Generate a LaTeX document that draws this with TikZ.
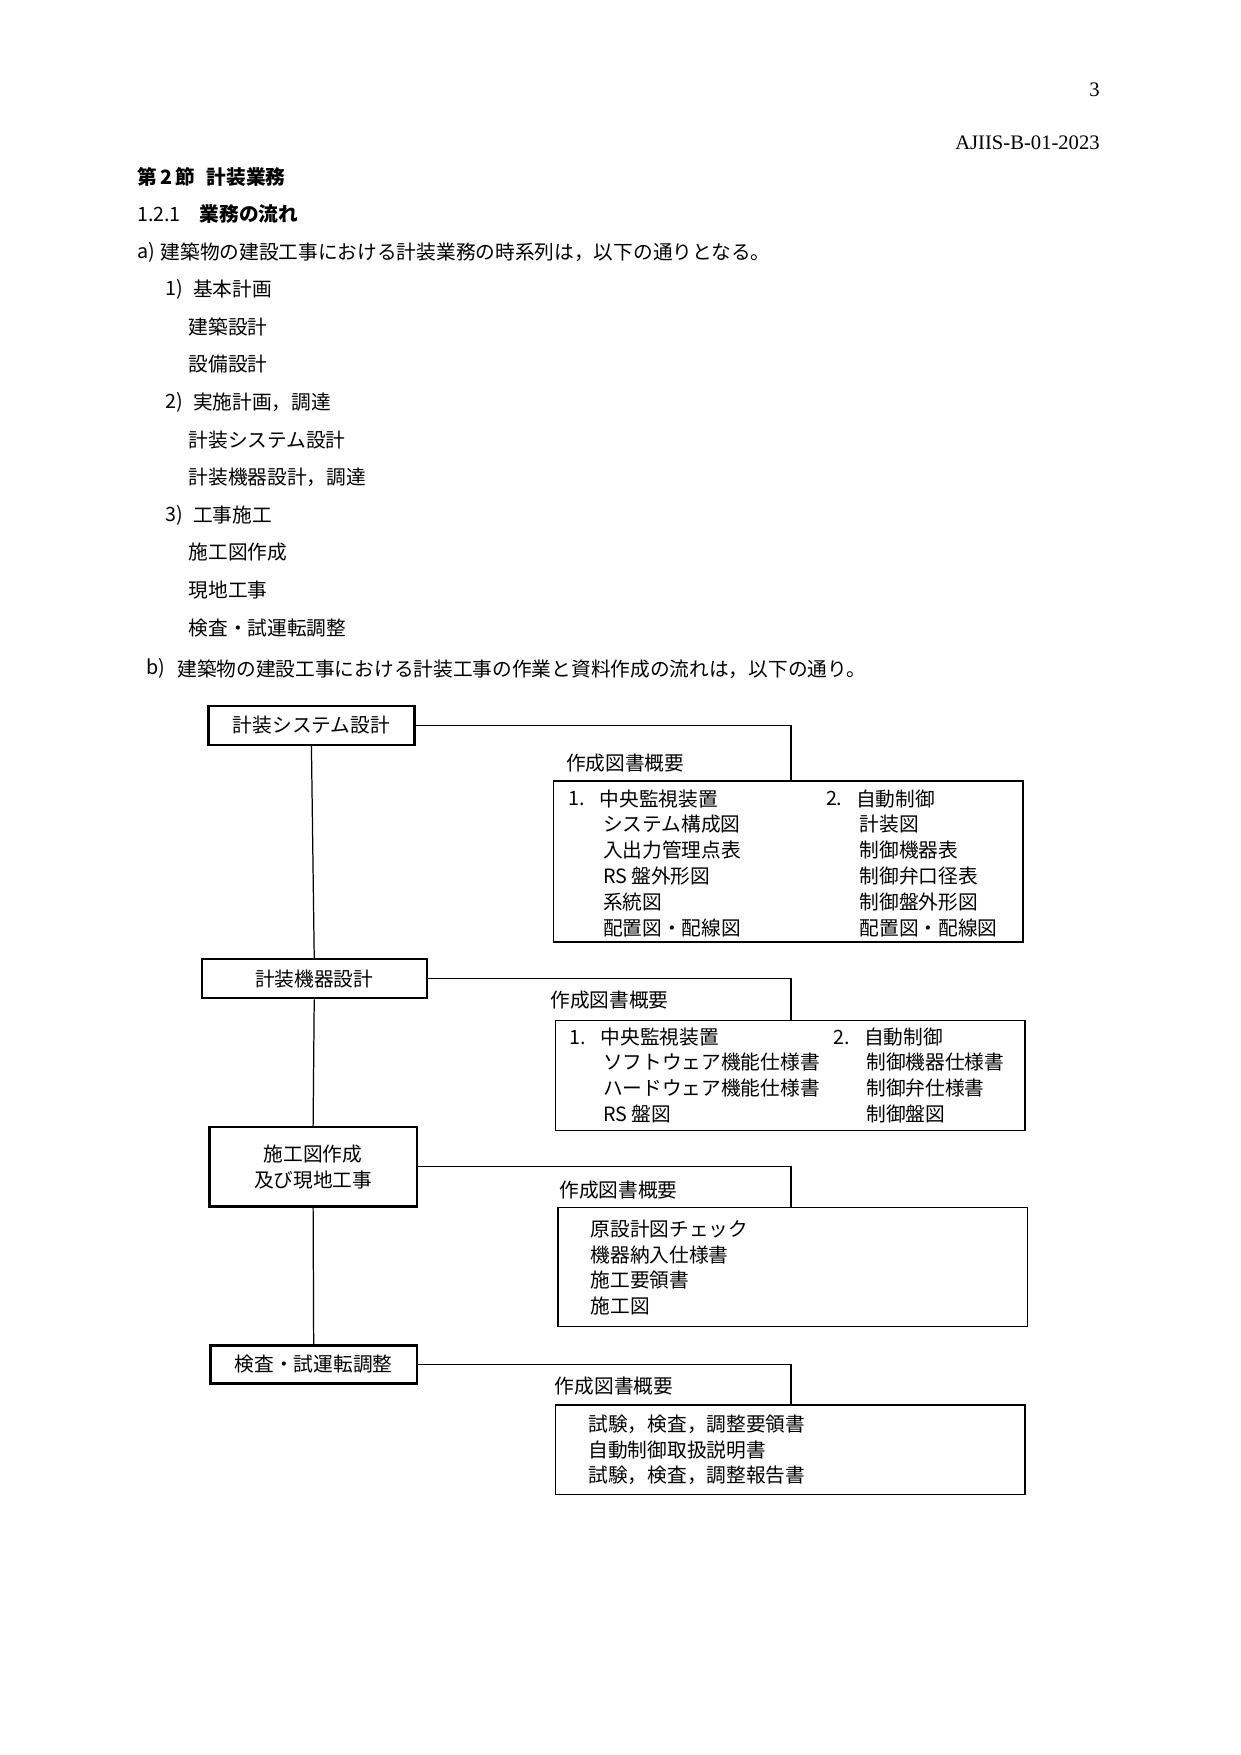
\documentclass[tikz,border=0pt]{standalone}
\usepackage{fontspec}
\setmainfont{Noto Sans CJK JP}
\newfontfamily\hdrfont{Liberation Serif}
\newcommand\pxu{*0.190909mm}
\begin{document}
\begin{tikzpicture}[x=0.190909mm,y=-0.190909mm,
  every node/.style={font=\fontsize{9.55pt}{12.5pt}\selectfont},
  txt/.style={anchor=west,inner sep=0pt},
  hdr/.style={anchor=east,inner sep=0pt,font=\hdrfont\fontsize{10pt}{12pt}\selectfont},
  stepbox/.style={draw,line width=1.1pt,inner sep=0pt,align=center},
  detailbox/.style={draw,line width=0.7pt,inner sep=0pt},
  link/.style={line width=0.6pt}]
\useasboundingbox (0,0) rectangle (1107.6,1566.6);

% header
\node[hdr] (pg) at (982,80) {3};
\node[hdr] (doc) at (982,127) {AJIIS-B-01-2023};
\node[txt,font=\fontsize{9.55pt}{12.5pt}\selectfont\bfseries] (sec) at (122,158) {第\,2\,節\hspace{0.6em}計装業務};
\node[txt] (sub1) at (122,191) {1.2.1};
\node[txt,font=\fontsize{9.55pt}{12.5pt}\selectfont\bfseries] (sub2) at (178,191) {業務の流れ};
\node[txt] (la) at (122,225) {a)};
\node[txt] (ta) at (143,225) {建築物の建設工事における計装業務の時系列は，以下の通りとなる。};
\node[txt] (l1) at (147,258) {1)};
\node[txt] (t1) at (172,258) {基本計画};
\node[txt] (t1a) at (168,292) {建築設計};
\node[txt] (t1b) at (168,325) {設備設計};
\node[txt] (l2) at (147,359) {2)};
\node[txt] (t2) at (172,359) {実施計画，調達};
\node[txt] (t2a) at (168,393) {計装システム設計};
\node[txt] (t2b) at (168,426) {計装機器設計，調達};
\node[txt] (l3) at (147,460) {3)};
\node[txt] (t3) at (172,460) {工事施工};
\node[txt] (t3a) at (168,493) {施工図作成};
\node[txt] (t3b) at (168,527) {現地工事};
\node[txt] (t3c) at (168,561) {検査・試運転調整};
\node[txt] (lb) at (130,597) {b)};
\node[txt] (tb) at (158,597) {建築物の建設工事における計装工事の作業と資料作成の流れは，以下の通り。};

% left flow boxes
\node[stepbox,minimum width=184\pxu,minimum height=35\pxu] (b1) at (278,647.5) {計装システム設計};
\node[stepbox,minimum width=201\pxu,minimum height=35\pxu] (b2) at (280.5,873.5) {計装機器設計};
\node[stepbox,minimum width=185\pxu,minimum height=71\pxu] (b3) at (279.5,1041.5) {施工図作成\\及び現地工事};
\node[stepbox,minimum width=184\pxu,minimum height=34\pxu] (b4) at (280,1218) {検査・試運転調整};

% detail boxes
\node[detailbox,minimum width=419\pxu,minimum height=144\pxu] (d1) at (703.5,769) {};
\node[detailbox,minimum width=419\pxu,minimum height=98\pxu] (d2) at (705.5,960) {};
\node[detailbox,minimum width=419\pxu,minimum height=106\pxu] (d3) at (707.5,1131) {};
\node[detailbox,minimum width=419\pxu,minimum height=80\pxu] (d4) at (705.5,1294) {};

\coordinate (c1) at (706,697);
\coordinate (c2) at (706,911);
\coordinate (c3) at (706,1078);
\coordinate (c4) at (706,1254);

% connectors
\draw[link] (b1.south) -- (b2.north);
\draw[link] (b2.south) -- (b3.north);
\draw[link] (b3.south) -- (b4.north);
\draw[link] (b1.east) -| (c1);
\draw[link] (b2.east) -| (c2);
\draw[link] (b3.east) -| (c3);
\draw[link] (b4.east) -| (c4);

% labels
\node[txt] (s1) at (505,681) {作成図書概要};
\node[txt] (s2) at (491,893) {作成図書概要};
\node[txt] (s3) at (499,1062) {作成図書概要};
\node[txt] (s4) at (495,1237) {作成図書概要};

% detail 1
\node[txt] (d1n1) at (507,713) {1.};
\node[txt] (d1h1) at (535,713) {中央監視装置};
\node[txt] (d1a) at (538,736) {システム構成図};
\node[txt] (d1b) at (538,759) {入出力管理点表};
\node[txt] (d1c) at (538,782) {RS 盤外形図};
\node[txt] (d1d) at (538,805) {系統図};
\node[txt] (d1e) at (538,828) {配置図・配線図};
\node[txt] (d1n2) at (737,713) {2.};
\node[txt] (d1h2) at (764,713) {自動制御};
\node[txt] (d1f) at (767,736) {計装図};
\node[txt] (d1g) at (767,759) {制御機器表};
\node[txt] (d1h) at (767,782) {制御弁口径表};
\node[txt] (d1i) at (767,805) {制御盤外形図};
\node[txt] (d1j) at (767,828) {配置図・配線図};

% detail 2
\node[txt] (d2n1) at (508,926) {1.};
\node[txt] (d2h1) at (536,926) {中央監視装置};
\node[txt] (d2a) at (538,948) {ソフトウェア機能仕様書};
\node[txt] (d2b) at (538,971) {ハードウェア機能仕様書};
\node[txt] (d2c) at (538,994) {RS 盤図};
\node[txt] (d2n2) at (744,926) {2.};
\node[txt] (d2h2) at (771,926) {自動制御};
\node[txt] (d2d) at (773,948) {制御機器仕様書};
\node[txt] (d2e) at (773,971) {制御弁仕様書};
\node[txt] (d2f) at (773,994) {制御盤図};

% detail 3
\node[txt] (d3a) at (527,1097) {原設計図チェック};
\node[txt] (d3b) at (527,1120) {機器納入仕様書};
\node[txt] (d3c) at (527,1143) {施工要領書};
\node[txt] (d3d) at (527,1166) {施工図};

% detail 4
\node[txt] (d4a) at (525,1271) {試験，検査，調整要領書};
\node[txt] (d4b) at (525,1294) {自動制御取扱説明書};
\node[txt] (d4c) at (525,1317) {試験，検査，調整報告書};
\end{tikzpicture}
\end{document}
